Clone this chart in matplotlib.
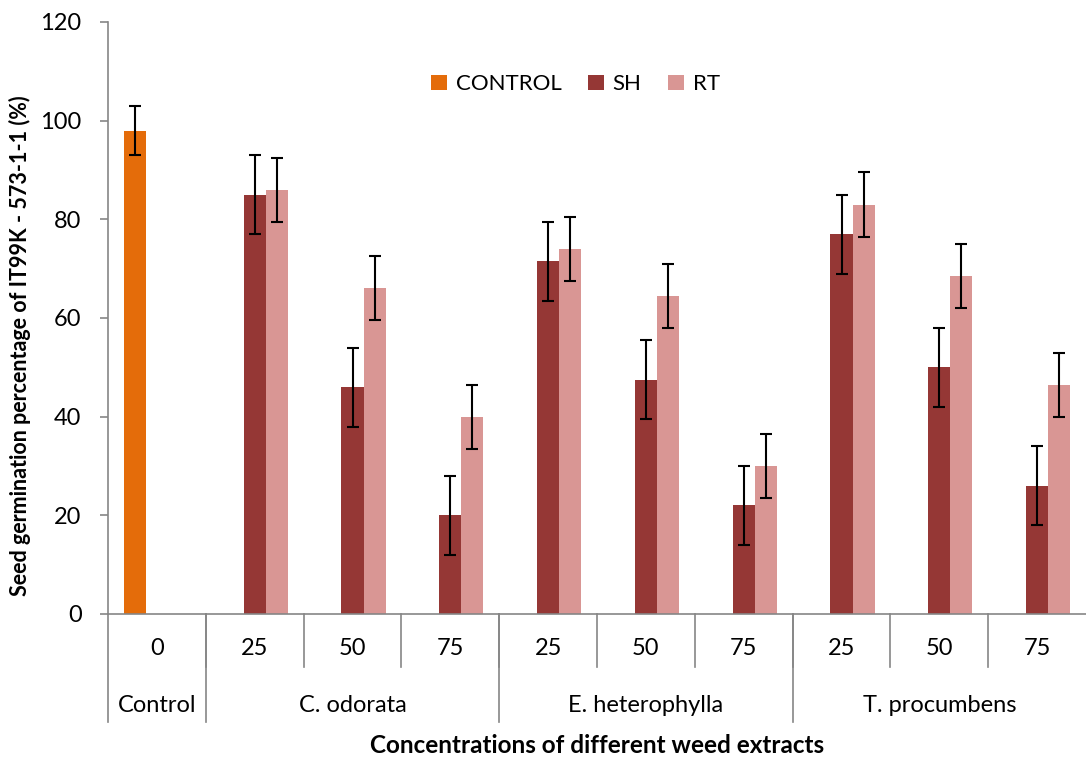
import numpy as np
import matplotlib
matplotlib.use("Agg")
import matplotlib.pyplot as plt

plt.rcParams['font.family'] = ['Lato', 'DejaVu Sans']

conc = ['0', '25', '50', '75', '25', '50', '75', '25', '50', '75']
groups = ['Control', 'C. odorata', 'E. heterophylla', 'T. procumbens']
group_sizes = [1, 3, 3, 3]

control = [98, np.nan, np.nan, np.nan, np.nan, np.nan, np.nan, np.nan, np.nan, np.nan]
control_err = [5, 0, 0, 0, 0, 0, 0, 0, 0, 0]
sh = [np.nan, 85, 46, 20, 71.5, 47.5, 22, 77, 50, 26]
sh_err = [0, 8, 8, 8, 8, 8, 8, 8, 8, 8]
rt = [np.nan, 86, 66, 40, 74, 64.5, 30, 83, 68.5, 46.5]
rt_err = [0, 6.5, 6.5, 6.5, 6.5, 6.5, 6.5, 6.5, 6.5, 6.5]

colors = {'CONTROL': '#E46C0A', 'SH': '#953735', 'RT': '#D99694'}
grey = '#868686'

fig = plt.figure(figsize=(10.86, 7.57), dpi=100)
ax = fig.add_axes([108 / 1086, 143 / 757, 978 / 1086, 592 / 757])

x = np.arange(len(conc))
w = 0.225
err_kw = dict(ecolor='black', elinewidth=1.5, capsize=4.5, capthick=1.5)
series = [('CONTROL', control, control_err, -1),
          ('SH', sh, sh_err, 0),
          ('RT', rt, rt_err, 1)]
for name, vals, errs, off in series:
    vals = np.array(vals, dtype=float)
    errs = np.array(errs, dtype=float)
    ax.bar(x + off * w, vals, w, color=colors[name], label=name, zorder=2)
    m = ~np.isnan(vals)
    ax.errorbar(x[m] + off * w, vals[m], yerr=errs[m], fmt='none', zorder=3, **err_kw)

ax.set_xlim(-0.5, len(conc) - 0.5)
ax.set_ylim(0, 120)
ax.set_yticks(np.arange(0, 121, 20))
ax.tick_params(axis='y', labelsize=17, direction='out', length=6, width=1.2, color=grey, pad=13)
ax.set_xticks([])

for s in ['top', 'right']:
    ax.spines[s].set_visible(False)
ax.spines['left'].set_color(grey)
ax.spines['bottom'].set_color(grey)
ax.spines['left'].set_linewidth(1.2)
ax.spines['bottom'].set_linewidth(1.2)

tr = ax.get_xaxis_transform()
# category labels and separators
for i, c in enumerate(conc):
    ax.text(i, -0.058, c, transform=tr, ha='center', va='center', fontsize=17)
for b in range(1, len(conc)):
    ax.plot([b - 0.5, b - 0.5], [0, -0.09], transform=tr, color=grey, lw=1.2, clip_on=False)
start = 0
bounds = [-0.5]
for g, n in zip(groups, group_sizes):
    ax.text(start + (n - 1) / 2, -0.155, g, transform=tr, ha='center', va='center', fontsize=17)
    start += n
    bounds.append(start - 0.5)
for b in bounds[:-1]:
    ax.plot([b, b], [0, -0.183], transform=tr, color=grey, lw=1.2, clip_on=False)

ax.set_ylabel('Seed germination percentage of IT99K - 573-1-1 (%)', fontsize=15.5,
              fontweight='bold')
ax.yaxis.set_label_coords(-0.079, 0.453)
ax.text(0.5, -0.222, 'Concentrations of different weed extracts', transform=ax.transAxes,
        ha='center', va='center', fontsize=17.5, fontweight='bold')

ax.legend(loc='center', bbox_to_anchor=(0.478, 0.895), ncol=3, frameon=False, fontsize=16,
          handlelength=0.7, handleheight=0.7, handletextpad=0.4, columnspacing=1.2)

fig.savefig('out.png', dpi=100)
